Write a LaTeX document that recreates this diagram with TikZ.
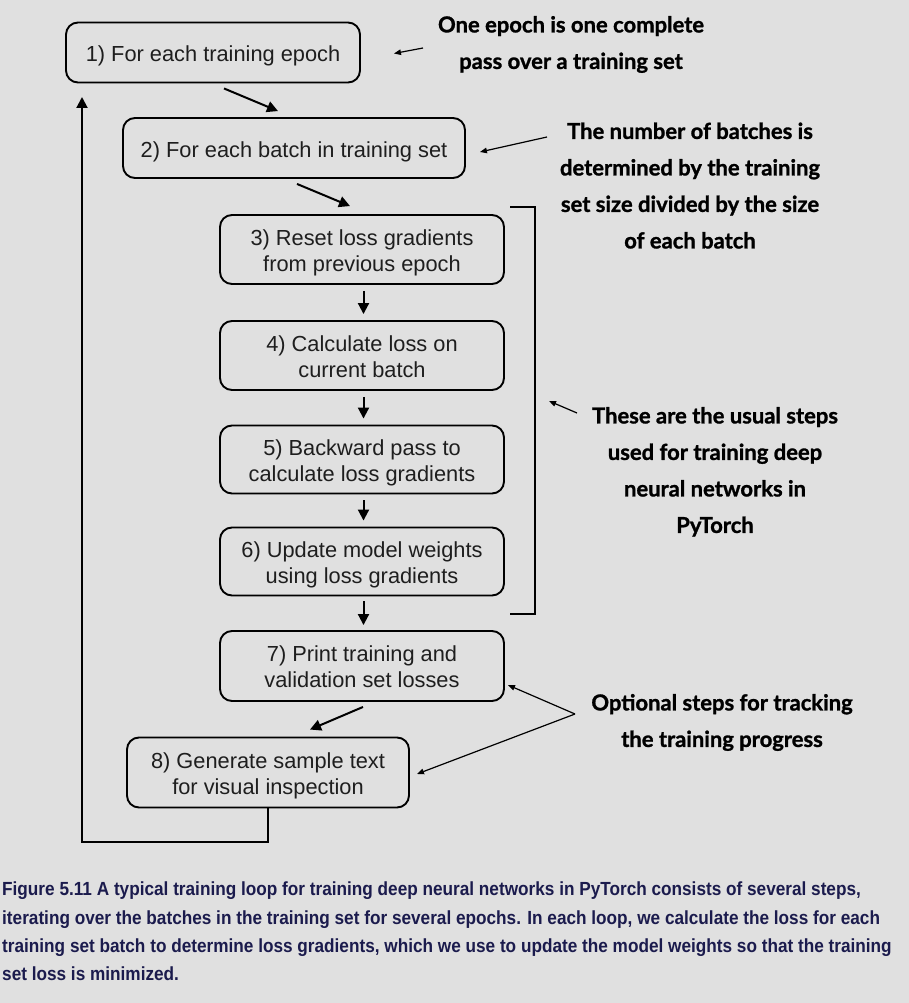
\documentclass[tikz,border=0pt]{standalone}
\usepackage{fontspec}
\setmainfont{Liberation Sans}
\newfontfamily\annfont[BoldFeatures={FakeBold=1.2}]{Lato}
\newfontfamily\capfont[FakeStretch=0.905]{Liberation Sans}
\usetikzlibrary{arrows.meta}
\definecolor{bg}{HTML}{E0E0E0}
\definecolor{boxtxt}{HTML}{1E1E1E}
\definecolor{capcol}{HTML}{1B1B4D}
\newcommand{\twolines}[2]{\raisebox{0pt}[20pt][29pt]{\begin{tabular}[t]{@{}c@{}}#1\\#2\end{tabular}}}
\newcommand{\oneline}[1]{\raisebox{0pt}[22.2pt][3.8pt]{#1}}
\newcommand{\annstrut}{\rule[-10pt]{0pt}{20pt}}
\newcommand{\capstrut}{\rule[-8pt]{0pt}{16pt}}
\begin{document}
\begin{tikzpicture}[x=1pt,y=-1pt,
  stepbox/.style={draw=black, line width=1.9pt, rounded corners=12pt,
    font=\fontsize{21.8}{26}\selectfont, text=boxtxt, inner sep=0pt},
  flow/.style={line width=2pt, -{Triangle[length=11pt,width=11pt]}},
  note/.style={line width=1.2pt, -{Triangle[length=7pt,width=5.5pt]}},
  anntext/.style={align=center, font=\annfont\bfseries\fontsize{22}{36.5}\selectfont, text=black,
    inner sep=0pt, execute at begin node=\annstrut, execute at end node=\annstrut},
]
\useasboundingbox[fill=bg] (0,0) rectangle (909,1003);

\node[stepbox, minimum width=294pt, minimum height=60pt] (b1) at (213,52.5) {\oneline{1) For each training epoch}};
\node[stepbox, minimum width=342pt, minimum height=60pt] (b2) at (294,148) {\oneline{2) For each batch in training set}};
\node[stepbox, minimum width=284pt, minimum height=69pt] (b3) at (362,249.5) {\twolines{3) Reset loss gradients}{from previous epoch}};
\node[stepbox, minimum width=284pt, minimum height=69pt] (b4) at (362,355.5) {\twolines{4) Calculate loss on}{current batch}};
\node[stepbox, minimum width=284pt, minimum height=68pt] (b5) at (362,459.5) {\twolines{5) Backward pass to}{calculate loss gradients}};
\node[stepbox, minimum width=284pt, minimum height=68pt] (b6) at (362,561.5) {\twolines{6) Update model weights}{using loss gradients}};
\node[stepbox, minimum width=284pt, minimum height=70pt] (b7) at (362,666) {\twolines{7) Print training and}{validation set losses}};
\node[stepbox, minimum width=282pt, minimum height=70pt] (b8) at (268,772.5) {\twolines{8) Generate sample text}{for visual inspection}};

% flow arrows
\draw[flow] ([shift={(11pt,-5pt)}]b1.south) -- ([shift={(-16pt,6pt)}]b2.north);
\draw[flow] ([shift={(3pt,-5pt)}]b2.south) -- ([shift={(-12pt,8pt)}]b3.north);
\draw[flow] ([shift={(1.5pt,-6pt)}]b3.south) -- ([shift={(1.5pt,6pt)}]b4.north);
\draw[flow] ([shift={(1.5pt,-6pt)}]b4.south) -- ([shift={(1.5pt,6pt)}]b5.north);
\draw[flow] ([shift={(1.5pt,-6pt)}]b5.south) -- ([shift={(1.5pt,6pt)}]b6.north);
\draw[flow] ([shift={(1.5pt,-5pt)}]b6.south) -- ([shift={(1.5pt,5pt)}]b7.north);
\draw[flow] ([shift={(1pt,-5pt)}]b7.south) -- ([shift={(42pt,7pt)}]b8.north);
\coordinate (loopbot) at (82,842);
\coordinate (loopend) at (82,97);
\draw[flow] (b8.south) |- (loopbot) -- (loopend);

% bracket
\draw[line width=1.9pt] (510,207) -- (535,207) -- (535,614) -- (510,614);

% annotations
\node[anntext] (a1) at (571,47.5) {One epoch is one complete\\pass over a training set};
\node[anntext] (a2) at (690,190.5) {The number of batches is\\determined by the training\\set size divided by the size\\of each batch};
\node[anntext] (a3) at (715,475) {These are the usual steps\\used for training deep\\neural networks in\\PyTorch};
\node[anntext] (a4) at (722,725.5) {Optional steps for tracking\\the training progress};

\coordinate (n1s) at (423,48);
\coordinate (n2s) at (547,137);
\coordinate (n3s) at (577,413);
\coordinate (n3e) at (549,401);
\coordinate (n4s) at (575,714);
\draw[note] (n1s) -- ([shift={(33pt,-1pt)}]b1.east);
\draw[note] (n2s) -- ([shift={(14pt,-4pt)}]b2.east);
\draw[note] (n3s) -- (n3e);
\draw[note] (n4s) -- ([shift={(3pt,-19pt)}]b7.east);
\draw[note] (n4s) -- ([shift={(7pt,-1.5pt)}]b8.east);

% caption
\node[anchor=west, align=left, inner sep=0pt, text=capcol,
  font=\capfont\bfseries\fontsize{19}{28.3}\selectfont,
  execute at begin node=\capstrut, execute at end node=\capstrut] (cap) at (2,935.5)
{Figure 5.11 A typical training loop for training deep neural networks in PyTorch consists of several steps,\\
iterating over the batches in the training set for several epochs. In each loop, we calculate the loss for each\\
training set batch to determine loss gradients, which we use to update the model weights so that the training\\
set loss is minimized.};
\end{tikzpicture}
\end{document}
